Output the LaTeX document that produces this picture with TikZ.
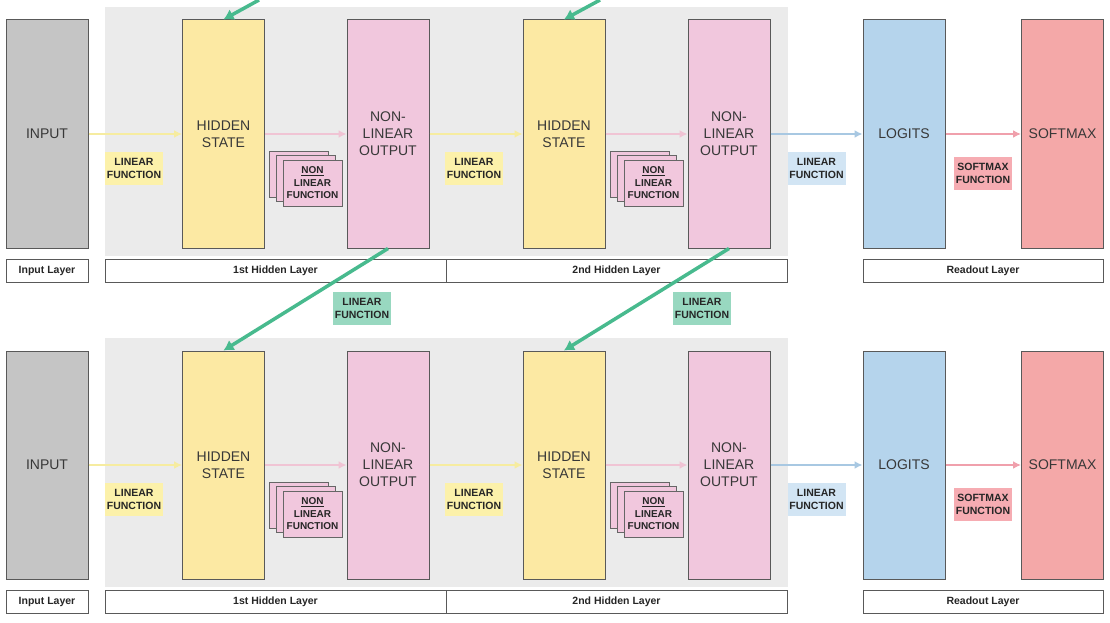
\documentclass[tikz,border=0pt]{standalone}
\usepackage{fontspec}
\setmainfont{Liberation Sans}
\usetikzlibrary{arrows.meta, positioning}

\definecolor{panelgray}{RGB}{235,235,235}
\definecolor{inputgray}{RGB}{197,197,197}
\definecolor{hiddenyellow}{RGB}{252,233,163}
\definecolor{outputpink}{RGB}{241,199,221}
\definecolor{logitblue}{RGB}{181,212,236}
\definecolor{softmaxred}{RGB}{244,168,168}
\definecolor{linkgreen}{RGB}{72,186,142}
\definecolor{taggreen}{RGB}{152,216,192}
\definecolor{tagyellow}{RGB}{252,241,170}
\definecolor{tagblue}{RGB}{210,229,244}
\definecolor{tagred}{RGB}{246,172,178}
\definecolor{flowyellow}{RGB}{246,236,160}
\definecolor{flowpink}{RGB}{240,196,212}
\definecolor{flowblue}{RGB}{168,200,226}
\definecolor{flowred}{RGB}{240,160,172}

\begin{document}
\begin{tikzpicture}[
        x=1pt, y=-1pt,
        panel/.style={rectangle, fill=panelgray, minimum width=683pt, minimum height=249pt, inner sep=0pt},
        unit/.style={rectangle, draw=black!65, line width=1pt, minimum width=82pt, minimum height=228pt, inner sep=0pt, align=center, font=\fontsize{14}{17}\selectfont, text=black!78},
        tag/.style={rectangle, minimum width=58pt, minimum height=33pt, inner sep=0pt, align=center, font=\fontsize{10.5}{13}\selectfont\bfseries, text=black!85},
        layername/.style={rectangle, draw=black!65, line width=1pt, fill=white, minimum height=23pt, inner sep=0pt, font=\fontsize{10.5}{12}\selectfont\bfseries, text=black!85},
        card/.style={rectangle, draw=black!60, line width=0.8pt, fill=outputpink, minimum width=59pt, minimum height=46pt, inner sep=0pt, align=center, font=\fontsize{10}{12.5}\selectfont\bfseries, text=black!85},
        flow/.style={line width=2pt, -{Latex[length=8pt, width=8pt]}},
        link/.style={draw=linkgreen, line width=3.5pt, -{Latex[length=10pt, width=12pt]}}
    ]
        \useasboundingbox (0,0) rectangle (1110,623);

        % Panels
        \node[panel] (panA) at (446.5,131.5) {};
        \node[panel] (panB) at (446.5,462.5) {};

        % Top row
        \node[unit, fill=inputgray] (inA) at (47,134) {INPUT};
        \node[unit, fill=hiddenyellow] (hsA1) at (223.5,134) {HIDDEN\\STATE};
        \node[unit, fill=outputpink] (noA1) at (388,134) {NON-\\LINEAR\\OUTPUT};
        \node[unit, fill=hiddenyellow] (hsA2) at (564,134) {HIDDEN\\STATE};
        \node[unit, fill=outputpink] (noA2) at (729,134) {NON-\\LINEAR\\OUTPUT};
        \node[unit, fill=logitblue] (lgA) at (904,134) {LOGITS};
        \node[unit, fill=softmaxred] (smA) at (1062.5,134) {SOFTMAX};

        \draw[flow, flowyellow] (inA) -- (hsA1);
        \draw[flow, flowpink] (hsA1) -- (noA1);
        \draw[flow, flowyellow] (noA1) -- (hsA2);
        \draw[flow, flowpink] (hsA2) -- (noA2);
        \draw[flow, flowblue] (noA2) -- (lgA);
        \draw[flow, flowred] (lgA) -- (smA);

        \node[tag, fill=tagyellow] (lfA1) at (134,168.5) {LINEAR\\FUNCTION};
        \node[tag, fill=tagyellow] (lfA2) at (474,168.5) {LINEAR\\FUNCTION};
        \node[tag, fill=tagblue] (lfA3) at (816.5,168.5) {LINEAR\\FUNCTION};
        \node[tag, fill=tagred] (sfA) at (983,173.5) {SOFTMAX\\FUNCTION};

        \node[card] (nfA1a) at (299,174.5) {};
        \node[card] (nfA1b) at (305.5,178.5) {};
        \node[card] (nfA1c) at (312.5,183) {\underline{NON}\\LINEAR\\FUNCTION};
        \node[card] (nfA2a) at (640,174.5) {};
        \node[card] (nfA2b) at (646.5,178.5) {};
        \node[card] (nfA2c) at (653.5,183) {\underline{NON}\\LINEAR\\FUNCTION};

        \node[layername, minimum width=82pt] (lnA0) at (47,270.5) {Input Layer};
        \node[layername, minimum width=341pt] (lnA1) at (275.5,270.5) {1st Hidden Layer};
        \node[layername, minimum width=341pt] (lnA2) at (616.5,270.5) {2nd Hidden Layer};
        \node[layername, minimum width=240pt] (lnA3) at (983,270.5) {Readout Layer};

        % Bottom row
        \node[unit, fill=inputgray] (inB) at (47,465) {INPUT};
        \node[unit, fill=hiddenyellow] (hsB1) at (223.5,465) {HIDDEN\\STATE};
        \node[unit, fill=outputpink] (noB1) at (388,465) {NON-\\LINEAR\\OUTPUT};
        \node[unit, fill=hiddenyellow] (hsB2) at (564,465) {HIDDEN\\STATE};
        \node[unit, fill=outputpink] (noB2) at (729,465) {NON-\\LINEAR\\OUTPUT};
        \node[unit, fill=logitblue] (lgB) at (904,465) {LOGITS};
        \node[unit, fill=softmaxred] (smB) at (1062.5,465) {SOFTMAX};

        \draw[flow, flowyellow] (inB) -- (hsB1);
        \draw[flow, flowpink] (hsB1) -- (noB1);
        \draw[flow, flowyellow] (noB1) -- (hsB2);
        \draw[flow, flowpink] (hsB2) -- (noB2);
        \draw[flow, flowblue] (noB2) -- (lgB);
        \draw[flow, flowred] (lgB) -- (smB);

        \node[tag, fill=tagyellow] (lfB1) at (134,499.5) {LINEAR\\FUNCTION};
        \node[tag, fill=tagyellow] (lfB2) at (474,499.5) {LINEAR\\FUNCTION};
        \node[tag, fill=tagblue] (lfB3) at (816.5,499.5) {LINEAR\\FUNCTION};
        \node[tag, fill=tagred] (sfB) at (983,504.5) {SOFTMAX\\FUNCTION};

        \node[card] (nfB1a) at (299,505.5) {};
        \node[card] (nfB1b) at (305.5,509.5) {};
        \node[card] (nfB1c) at (312.5,514) {\underline{NON}\\LINEAR\\FUNCTION};
        \node[card] (nfB2a) at (640,505.5) {};
        \node[card] (nfB2b) at (646.5,509.5) {};
        \node[card] (nfB2c) at (653.5,514) {\underline{NON}\\LINEAR\\FUNCTION};

        \node[layername, minimum width=82pt] (lnB0) at (47,601.5) {Input Layer};
        \node[layername, minimum width=341pt] (lnB1) at (275.5,601.5) {1st Hidden Layer};
        \node[layername, minimum width=341pt] (lnB2) at (616.5,601.5) {2nd Hidden Layer};
        \node[layername, minimum width=240pt] (lnB3) at (983,601.5) {Readout Layer};

        % Links between rows
        \coordinate (feedA1) at (259,0);
        \coordinate (feedA2) at (600,0);
        \draw[link] (feedA1) -- (hsA1.north);
        \draw[link] (feedA2) -- (hsA2.north);
        \draw[link] (noA1.south) -- (hsB1.north);
        \draw[link] (noA2.south) -- (hsB2.north);

        \node[tag, fill=taggreen] (lfC1) at (362,308) {LINEAR\\FUNCTION};
        \node[tag, fill=taggreen] (lfC2) at (702,308) {LINEAR\\FUNCTION};
    \end{tikzpicture}
\end{document}
